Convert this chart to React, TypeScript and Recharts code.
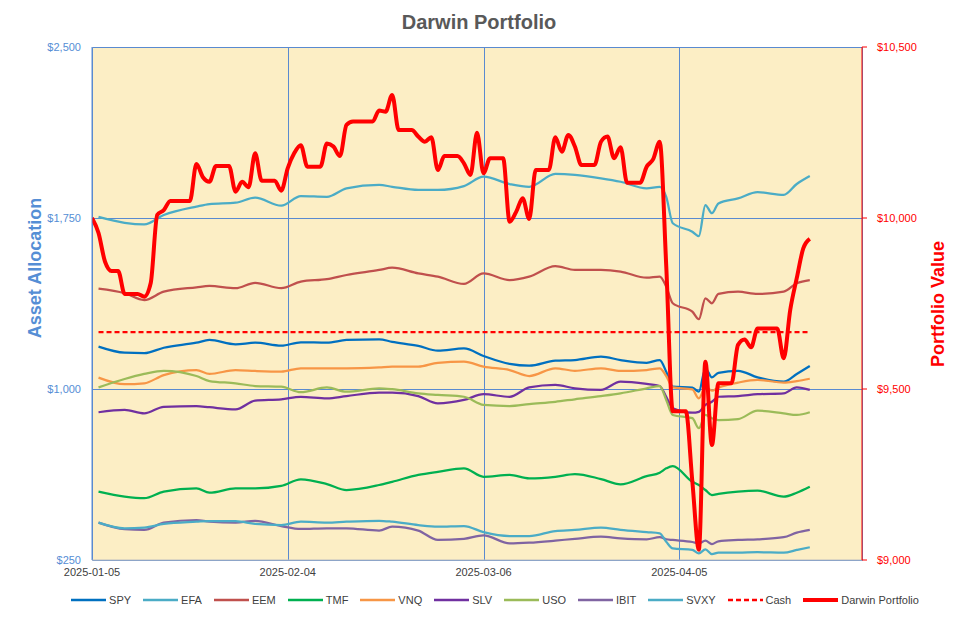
import { LineChart, Line, XAxis, YAxis, CartesianGrid } from 'recharts';

// Sample dates for the asset lines (trading days)
const GRID_DATES = [
  '2025-01-06', '2025-01-10', '2025-01-13', '2025-01-16', '2025-01-21', '2025-01-23',
  '2025-01-27', '2025-01-30', '2025-02-03', '2025-02-06', '2025-02-10', '2025-02-13',
  '2025-02-18', '2025-02-20', '2025-02-24', '2025-02-27', '2025-03-03', '2025-03-06',
  '2025-03-10', '2025-03-13', '2025-03-17', '2025-03-20', '2025-03-24', '2025-03-27',
  '2025-03-31', '2025-04-02', '2025-04-03', '2025-04-04', '2025-04-07', '2025-04-08',
  '2025-04-09', '2025-04-10', '2025-04-11', '2025-04-14', '2025-04-17', '2025-04-21',
  '2025-04-23', '2025-04-25',
];

const SPY = [1186, 1159, 1157, 1181, 1203, 1215, 1196, 1203, 1190, 1205, 1203, 1215, 1218, 1207, 1189, 1168, 1178, 1145, 1110, 1102, 1124, 1127, 1142, 1127, 1115, 1127, 1076, 1010, 1006, 988, 1091, 1051, 1071, 1080, 1051, 1032, 1066, 1101];
const EFA = [1755, 1729, 1722, 1763, 1800, 1811, 1817, 1839, 1804, 1846, 1843, 1880, 1895, 1887, 1873, 1873, 1890, 1931, 1899, 1887, 1943, 1939, 1924, 1909, 1880, 1887, 1843, 1727, 1690, 1671, 1807, 1771, 1814, 1836, 1863, 1851, 1899, 1934];
const EEM = [1440, 1420, 1390, 1427, 1446, 1452, 1442, 1466, 1442, 1471, 1482, 1500, 1522, 1532, 1507, 1493, 1461, 1507, 1478, 1493, 1539, 1522, 1522, 1515, 1488, 1493, 1449, 1376, 1339, 1306, 1398, 1376, 1417, 1427, 1417, 1427, 1464, 1478];
const TMF = [550, 528, 521, 550, 564, 545, 564, 564, 575, 604, 583, 557, 579, 593, 623, 637, 652, 615, 623, 608, 615, 627, 605, 582, 618, 633, 652, 662, 593, 579, 557, 535, 540, 550, 554, 528, 545, 571];
const VNQ = [1050, 1021, 1025, 1061, 1083, 1066, 1083, 1079, 1076, 1091, 1091, 1091, 1095, 1098, 1098, 1115, 1120, 1098, 1083, 1057, 1091, 1080, 1091, 1079, 1083, 1091, 1057, 1007, 998, 959, 1007, 993, 1006, 1028, 1040, 1028, 1035, 1045];
const SLV = [898, 908, 893, 922, 925, 920, 911, 949, 955, 966, 959, 969, 984, 984, 969, 937, 952, 977, 966, 1007, 1018, 1003, 996, 1032, 1022, 1013, 966, 915, 896, 900, 930, 944, 966, 969, 977, 981, 1007, 996];
const USO = [1007, 1044, 1066, 1080, 1057, 1035, 1025, 1013, 1010, 986, 1007, 988, 1003, 999, 981, 974, 966, 930, 925, 934, 944, 955, 969, 981, 1003, 1013, 952, 886, 872, 828, 886, 872, 864, 868, 905, 893, 886, 898];
const IBIT = [414, 385, 382, 414, 425, 418, 414, 422, 399, 386, 389, 389, 379, 396, 379, 338, 343, 358, 323, 326, 335, 343, 352, 345, 341, 350, 341, 338, 329, 323, 335, 320, 332, 338, 341, 350, 370, 382];
const SVXY = [414, 389, 392, 408, 418, 421, 420, 408, 403, 418, 414, 418, 422, 418, 403, 396, 399, 372, 355, 355, 377, 382, 392, 382, 372, 367, 330, 301, 294, 279, 297, 276, 282, 282, 284, 282, 294, 306];

const CASH_DATES = ['2025-01-06', '2025-04-25'];
const CASH = [1250, 1250];

// Portfolio value, one entry per calendar day from the start date
const DARWIN_START = '2025-01-05';
const DARWIN = [
  10000, 9956, 9872, 9845, 9845, 9778, 9778, 9778, 9770, 9810,
  10009, 10023, 10050, 10050, 10050, 10050, 10158, 10119, 10106, 10152,
  10152, 10152, 10077, 10106, 10090, 10189, 10109, 10109, 10109, 10080,
  10146, 10190, 10213, 10150, 10150, 10150, 10218, 10209, 10181, 10272,
  10282, 10282, 10282, 10282, 10314, 10311, 10360, 10257, 10257, 10257,
  10238, 10223, 10236, 10140, 10181, 10181, 10181, 10160, 10126, 10249,
  10131, 10175, 10175, 10175, 9989, 10018, 10058, 9997, 10140, 10140,
  10140, 10236, 10194, 10243, 10209, 10155, 10155, 10155, 10223, 10238,
  10175, 10207, 10103, 10103, 10103, 10150, 10172, 10223, 9860, 9435,
  9435, 9435, 9230, 9030, 9580, 9336, 9517, 9517, 9517, 9629,
  9645, 9622, 9677, 9677, 9677, 9677, 9590, 9731, 9824, 9911,
  9939,
];

const X_TICKS = ['2025-01-05', '2025-02-04', '2025-03-06', '2025-04-05'];
const X_END = '2025-05-03';
const LEFT_TICKS = [250, 1000, 1750, 2500];
const RIGHT_TICKS = [9000, 9500, 10000, 10500];

const DAY = 86400000;
const ts = (d: string) => Date.parse(d);
const fmtDate = (v: number) => new Date(v).toISOString().slice(0, 10);
const fmtMoney = (v: number) => '$' + v.toLocaleString('en-US');

const ASSETS = [
  { name: 'SPY', color: '#0070C0', values: SPY },
  { name: 'EFA', color: '#4BACC6', values: EFA },
  { name: 'EEM', color: '#C0504D', values: EEM },
  { name: 'TMF', color: '#00B050', values: TMF },
  { name: 'VNQ', color: '#F79646', values: VNQ },
  { name: 'SLV', color: '#7030A0', values: SLV },
  { name: 'USO', color: '#9BBB59', values: USO },
  { name: 'IBIT', color: '#8064A2', values: IBIT },
  { name: 'SVXY', color: '#4BACC6', values: SVXY },
];

const gridRows = GRID_DATES.map((d, i) => {
  const row: Record<string, number> = { t: ts(d) };
  ASSETS.forEach((a) => { row[a.name] = a.values[i]; });
  return row;
});
const cashRows = CASH_DATES.map((d, i) => ({ t: ts(d), Cash: CASH[i] }));
const darwinRows = DARWIN.map((v, i) => ({ t: ts(DARWIN_START) + i * DAY, Darwin: v }));

const FONT = '"Liberation Sans", Arial, sans-serif';
const BLUE = '#5A8AD0';

const LEGEND = [
  ...ASSETS.map((a) => ({ name: a.name, color: a.color, dashed: false, width: 2.5 })),
  { name: 'Cash', color: '#FF0000', dashed: true, width: 2.5 },
  { name: 'Darwin Portfolio', color: '#FF0000', dashed: false, width: 4 },
];

// grid lines snapped to whole pixels so they stay crisp blue
const snap = (v: number) => Math.round(v) + 0.5;
const gridLine = (props: any) => (
  <line
    key={props.key ?? `${props.x1}-${props.y1}`}
    x1={snap(props.x1)}
    x2={snap(props.x2)}
    y1={snap(props.y1)}
    y2={snap(props.y2)}
    stroke={BLUE}
    strokeWidth={1}
  />
);

function LegendRow() {
  return (
    <div style={{ position: 'absolute', left: 0, top: 594, width: 958, display: 'flex', justifyContent: 'center', paddingLeft: 44, boxSizing: 'border-box', fontFamily: FONT, fontSize: 11, color: '#404040' }}>
      {LEGEND.map((item) => (
        <div key={item.name} style={{ display: 'flex', alignItems: 'center', marginRight: 12 }}>
          <svg width={35} height={12} style={{ marginRight: 3 }}>
            <line x1={0} x2={35} y1={6} y2={6} stroke={item.color} strokeWidth={item.width} strokeDasharray={item.dashed ? '5 3' : undefined} />
          </svg>
          <span>{item.name}</span>
        </div>
      ))}
    </div>
  );
}

export default function App() {
  return (
    <div style={{ position: 'absolute', left: 0, top: 0, width: 958, height: 622, background: '#fff', fontFamily: FONT }}>
      <div style={{ position: 'absolute', top: 11, left: 0, width: 958, textAlign: 'center', fontSize: 20, fontWeight: 'bold', color: '#595959' }}>
        Darwin Portfolio
      </div>
      <div style={{ position: 'absolute', left: 35, top: 268, transform: 'translate(-50%, -50%) rotate(-90deg)', whiteSpace: 'nowrap', fontSize: 18, fontWeight: 'bold', color: '#558ED5' }}>
        Asset Allocation
      </div>
      <div style={{ position: 'absolute', left: 938, top: 304, transform: 'translate(-50%, -50%) rotate(-90deg)', whiteSpace: 'nowrap', fontSize: 18, fontWeight: 'bold', color: '#FF0000' }}>
        Portfolio Value
      </div>
      <LineChart width={958} height={622} margin={{ top: 47, right: 36, bottom: 32, left: 32 }}>
        <CartesianGrid
          yAxisId="left"
          stroke={BLUE}
          horizontal={gridLine}
          vertical={gridLine}
          fill="#FCEEC5"
          fillOpacity={1}
        />
        <XAxis
          dataKey="t"
          type="number"
          domain={[ts(X_TICKS[0]), ts(X_END)]}
          ticks={X_TICKS.map(ts)}
          tickFormatter={fmtDate}
          height={30}
          stroke="#BFBFBF"
          tickLine={false}
          tick={{ fill: '#404040', fontSize: 11, fontFamily: FONT }}
          allowDataOverflow
        />
        <YAxis
          yAxisId="left"
          domain={[250, 2500]}
          ticks={LEFT_TICKS}
          tickFormatter={fmtMoney}
          width={60}
          stroke={BLUE}
          tickLine={false}
          tickMargin={5}
          tick={{ fill: '#558ED5', fontSize: 11, fontFamily: FONT }}
        />
        <YAxis
          yAxisId="right"
          orientation="right"
          domain={[9000, 10500]}
          ticks={RIGHT_TICKS}
          tickFormatter={fmtMoney}
          width={60}
          stroke="#FF0000"
          tickSize={5}
          tickMargin={10}
          tick={{ fill: '#FF0000', fontSize: 11, fontFamily: FONT }}
        />
        {ASSETS.map((a) => (
          <Line
            key={a.name}
            yAxisId="left"
            data={gridRows}
            dataKey={a.name}
            name={a.name}
            type="monotone"
            stroke={a.color}
            strokeWidth={2.25}
            dot={false}
            isAnimationActive={false}
          />
        ))}
        <Line
          yAxisId="left"
          data={cashRows}
          dataKey="Cash"
          name="Cash"
          type="linear"
          stroke="#FF0000"
          strokeWidth={2.25}
          strokeDasharray="5 3"
          dot={false}
          isAnimationActive={false}
        />
        <Line
          yAxisId="right"
          data={darwinRows}
          dataKey="Darwin"
          name="Darwin Portfolio"
          type="monotone"
          stroke="#FF0000"
          strokeWidth={4}
          dot={false}
          isAnimationActive={false}
        />
      </LineChart>
      <LegendRow />
    </div>
  );
}
